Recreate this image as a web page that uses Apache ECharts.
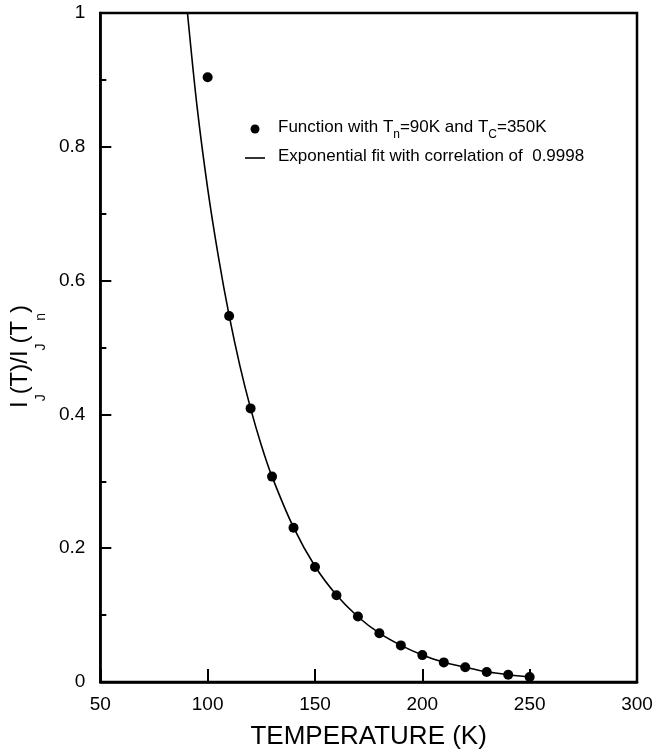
<!DOCTYPE html>
<html>
<head>
<meta charset="utf-8">
<script src="https://cdn.jsdelivr.net/npm/echarts@6/dist/echarts.min.js"></script>
<style>
html,body{margin:0;padding:0;background:#fff;}
#chart{width:662px;height:755px;}
</style>
</head>
<body>
<div id="chart"></div>
<script>
// Data points (function values)
const pointT = [100, 110, 120, 130, 140, 150, 160, 170, 180, 190, 200, 210, 220, 230, 240, 250];
const pointV = [0.904, 0.547, 0.409, 0.307, 0.2305, 0.172, 0.1297, 0.098, 0.073, 0.0547, 0.0402, 0.0293, 0.022, 0.0149, 0.0109, 0.0075];
// Exponential fit curve
const fitT = [90.6, 95, 100, 105, 110, 115, 120, 125, 130, 140, 150, 160, 170, 180, 190, 200, 210, 220, 230, 240, 250];
const fitV = [1.0, 0.862, 0.738, 0.636, 0.548, 0.473, 0.409, 0.354, 0.307, 0.231, 0.173, 0.130, 0.0975, 0.073, 0.0548, 0.0405, 0.0295, 0.022, 0.0152, 0.0108, 0.0075];
// Axis ticks
const xTicks = [50, 100, 150, 200, 250, 300];
const yTicks = [0, 0.2, 0.4, 0.6, 0.8, 1];

const seriesNames = ['Function with Tn=90K and TC=350K', 'Exponential fit with correlation of  0.9998'];
const legendLabels = {
  'Function with Tn=90K and TC=350K': '{g|}{m|Function with T}{s|n}{m|=90K and T}{s|C}{m|=350K}',
  'Exponential fit with correlation of  0.9998': '{g|}{m|Exponential fit with correlation of  0.9998}'
};

const FONT = 'Liberation Sans, Arial, Helvetica, sans-serif';
const legendRich = {
  g: { width: 8, fontSize: 17 },
  m: { fontSize: 17, lineHeight: 20, verticalAlign: 'top', fontFamily: FONT, color: '#000' },
  s: { fontSize: 12, lineHeight: 12, padding: [10, 0, 0, 0], verticalAlign: 'top', fontFamily: FONT, color: '#000' }
};

const chart = echarts.init(document.getElementById('chart'));
chart.setOption({
  animation: false,
  backgroundColor: '#fff',
  textStyle: { fontFamily: FONT, color: '#000' },
  grid: { left: 90, right: 25, top: 13, bottom: 71, show: true, borderColor: '#000', borderWidth: 2.5, backgroundColor: 'transparent' },
  legend: [
    {
      orient: 'vertical', left: 250.5, top: 119, padding: 0,
      itemWidth: 20, itemHeight: 9, icon: 'circle',
      selectedMode: false,
      data: [seriesNames[0]],
      formatter: n => legendLabels[n],
      itemStyle: { color: '#000', opacity: 1 },
      textStyle: { fontFamily: FONT, color: '#000', rich: legendRich }
    },
    {
      orient: 'vertical', left: 245, top: 148, padding: 0,
      itemWidth: 20, itemHeight: 1.6, icon: 'rect',
      selectedMode: false,
      data: [seriesNames[1]],
      formatter: n => legendLabels[n],
      itemStyle: { color: '#000' },
      textStyle: { fontFamily: FONT, color: '#000', rich: legendRich }
    }
  ],
  xAxis: {
    type: 'value', min: xTicks[0], max: xTicks[xTicks.length - 1], interval: 50,
    name: 'TEMPERATURE (K)', nameLocation: 'middle', nameGap: 42,
    nameTextStyle: { fontSize: 26, fontFamily: FONT, color: '#000' },
    axisLine: { show: true, lineStyle: { color: '#000', width: 2.5 } },
    axisTick: { show: true, inside: true, length: 13, lineStyle: { color: '#000', width: 2 } },
    axisLabel: { fontSize: 19, color: '#000', margin: 13, fontFamily: FONT },
    splitLine: { show: false }
  },
  yAxis: {
    type: 'value', min: yTicks[0], max: yTicks[yTicks.length - 1], interval: 0.2,
    name: '{m|I}{s|J}{m|(T)/I}{s|J}{m|(T}{s|n}{m|)}',
    nameLocation: 'middle', nameGap: 41, nameRotate: 90,
    nameTextStyle: {
      padding: [0, 18, 0, 0],
      rich: {
        m: { fontSize: 24, lineHeight: 30, verticalAlign: 'top', fontFamily: FONT, color: '#000' },
        s: { fontSize: 14, lineHeight: 14, padding: [26, 0, 0, 0], verticalAlign: 'top', fontFamily: FONT, color: '#000' }
      }
    },
    axisLine: { show: true, lineStyle: { color: '#000', width: 2.5 } },
    axisTick: { show: true, inside: true, length: 11, lineStyle: { color: '#000', width: 2 } },
    minorTick: { show: true, splitNumber: 2, length: 6, lineStyle: { color: '#000', width: 2 } },
    axisLabel: { fontSize: 19, color: '#000', margin: 15, fontFamily: FONT },
    splitLine: { show: false }
  },
  series: [
    {
      name: seriesNames[0], type: 'scatter',
      data: pointT.map((t, i) => [t, pointV[i]]),
      symbol: 'circle', symbolSize: 10,
      itemStyle: { color: '#000', opacity: 1 }, z: 3
    },
    {
      name: seriesNames[1], type: 'line',
      data: fitT.map((t, i) => [t, fitV[i]]),
      smooth: 0.3, symbol: 'none', showSymbol: false,
      lineStyle: { color: '#000', width: 1.6 },
      itemStyle: { color: '#000' }, z: 2
    }
  ]
});
</script>
</body>
</html>
